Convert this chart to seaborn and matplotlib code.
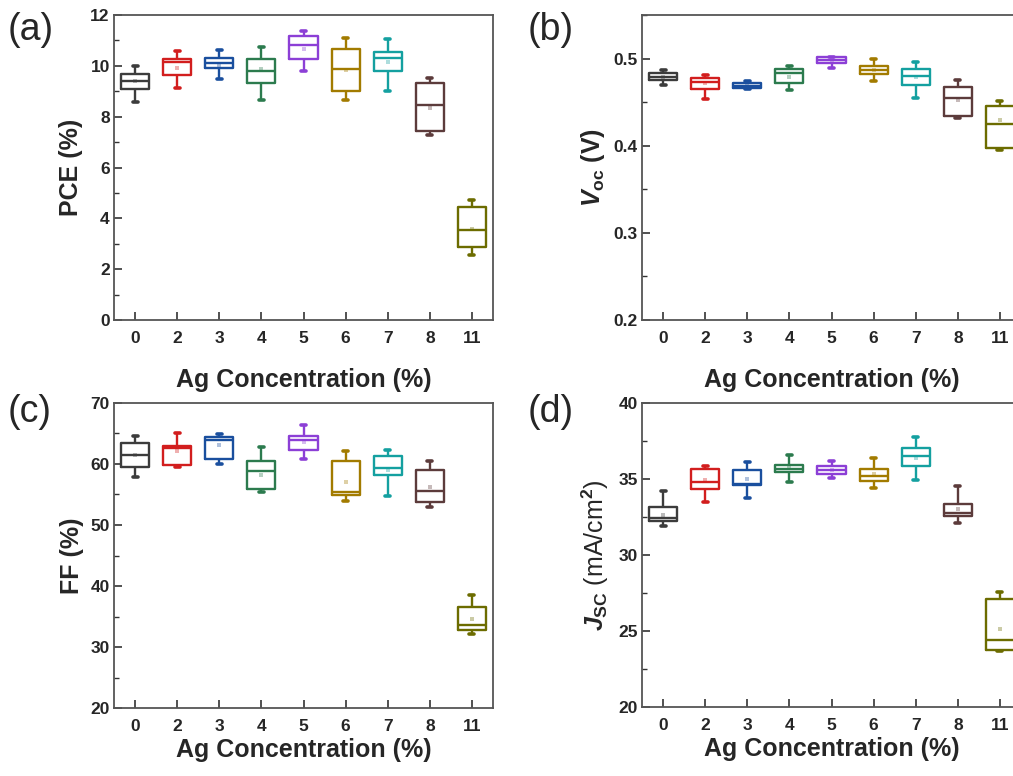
import numpy as np
import pandas as pd
import matplotlib
matplotlib.use("Agg")
import matplotlib.pyplot as plt
import seaborn as sns
from matplotlib.ticker import MultipleLocator

# ---------------- data ----------------
concentrations = ["0", "2", "3", "4", "5", "6", "7", "8", "11"]
colors = ["#3c3c3c", "#d21e1e", "#1a4f9e", "#2c7b4e", "#8c3fd6",
          "#a27b00", "#14a0a0", "#5c3b3b", "#6c6c00"]

# whisker low, q1, median, q3, whisker high, mean
pce_low  = [8.56, 9.14, 9.47, 8.66, 9.81, 8.66, 9.02, 7.29, 2.56]
pce_q1   = [9.08, 9.64, 9.91, 9.31, 10.26, 9.02, 9.80, 7.45, 2.87]
pce_med  = [9.39, 10.14, 10.12, 9.80, 10.81, 9.86, 10.31, 8.45, 3.54]
pce_q3   = [9.68, 10.26, 10.30, 10.26, 11.17, 10.66, 10.53, 9.31, 4.45]
pce_high = [10.00, 10.60, 10.62, 10.73, 11.38, 11.08, 11.06, 9.53, 4.71]
pce_mean = [9.42, 9.93, 10.03, 9.86, 10.65, 9.84, 10.16, 8.35, 3.57]

voc_low  = [0.470, 0.454, 0.4654, 0.4638, 0.4892, 0.474, 0.4542, 0.432, 0.3946]
voc_q1   = [0.475, 0.4646, 0.4665, 0.4723, 0.4946, 0.482, 0.4692, 0.4346, 0.3977]
voc_med  = [0.479, 0.473, 0.469, 0.483, 0.4985, 0.487, 0.480, 0.455, 0.4254]
voc_q3   = [0.483, 0.478, 0.4715, 0.4885, 0.5015, 0.4915, 0.4885, 0.4673, 0.446]
voc_high = [0.487, 0.4815, 0.4746, 0.4915, 0.5023, 0.4992, 0.496, 0.4754, 0.4515]
voc_mean = [0.4785, 0.4715, 0.469, 0.479, 0.4985, 0.4865, 0.4785, 0.453, 0.430]

ff_low  = [57.86, 59.44, 59.99, 55.34, 60.81, 53.97, 54.68, 52.93, 32.20]
ff_q1   = [59.50, 59.82, 60.86, 55.83, 62.29, 54.85, 58.13, 53.75, 32.80]
ff_med  = [61.41, 62.56, 63.87, 58.79, 63.98, 55.45, 59.33, 55.61, 33.62]
ff_q3   = [63.44, 62.89, 64.42, 60.54, 64.64, 60.54, 61.30, 59.00, 36.52]
ff_high = [64.53, 65.08, 64.86, 62.72, 66.33, 62.12, 62.34, 60.54, 38.54]
ff_mean = [61.41, 62.07, 63.16, 58.24, 63.54, 57.09, 59.06, 56.27, 34.66]

jsc_low  = [31.93, 33.51, 33.73, 34.80, 35.07, 34.41, 34.96, 32.11, 23.68]
jsc_q1   = [32.21, 34.36, 34.58, 35.48, 35.31, 34.85, 35.86, 32.57, 23.75]
jsc_med  = [32.43, 34.80, 34.69, 35.68, 35.57, 35.20, 36.54, 32.76, 24.41]
jsc_q3   = [33.16, 35.66, 35.57, 35.92, 35.86, 35.66, 37.06, 33.38, 27.11]
jsc_high = [34.19, 35.88, 36.10, 36.58, 36.18, 36.40, 37.76, 34.52, 27.59]
jsc_mean = [32.65, 34.91, 35.00, 35.70, 35.57, 35.35, 36.38, 33.03, 25.13]

# ---------------- style ----------------
sns.set_theme(style="white")
plt.rcParams["font.family"] = ["Liberation Sans", "DejaVu Sans"]
plt.rcParams["mathtext.fontset"] = "custom"
plt.rcParams["mathtext.it"] = "Liberation Sans:italic:bold"
plt.rcParams["mathtext.rm"] = "Liberation Sans:bold"
plt.rcParams["mathtext.bf"] = "Liberation Sans:bold"

fig = plt.figure(figsize=(10.13, 7.76), dpi=100)
W, H = 1013.0, 776.0


def add_ax(left_px, top_px, right_px, bottom_px):
    return fig.add_axes([left_px / W, 1 - bottom_px / H,
                         (right_px - left_px) / W, (bottom_px - top_px) / H])


def make_df(low, q1, med, q3, high):
    rows = []
    for c, a, b, m, d, e in zip(concentrations, low, q1, med, q3, high):
        for v in (a, b, m, d, e):
            rows.append({"conc": c, "value": v})
    return pd.DataFrame(rows)


palette = dict(zip(concentrations, colors))


def panel(ax, low, q1, med, q3, high, mean, ylim, major, minor, ylabel,
          label_weight="bold", fmt=None, xlabelpad=15):
    df = make_df(low, q1, med, q3, high)
    sns.boxplot(data=df, x="conc", y="value", hue="conc", order=concentrations,
                hue_order=concentrations, palette=palette, fill=False,
                whis=(0, 100), width=0.67, linewidth=1.7, legend=False,
                capwidths=0.12, ax=ax,
                capprops={"linewidth": 2.6})
    mdf = pd.DataFrame({"conc": concentrations, "value": mean})
    sns.stripplot(data=mdf, x="conc", y="value", hue="conc", order=concentrations,
                  hue_order=concentrations, palette=palette, jitter=False,
                  marker="s", size=3, alpha=0.35, legend=False, ax=ax)
    ax.set_xlim(-0.5, 8.5)
    ax.set_ylim(*ylim)
    ax.yaxis.set_major_locator(MultipleLocator(major))
    ax.yaxis.set_minor_locator(MultipleLocator(minor))
    if fmt:
        ax.yaxis.set_major_formatter(fmt)
    ax.tick_params(axis="both", which="both", direction="in", color="#333333",
                   left=True, bottom=True, top=False, right=False)
    ax.tick_params(axis="both", which="major", length=6, width=1.2)
    ax.tick_params(axis="y", which="minor", length=3.5, width=1.0)
    ax.tick_params(axis="y", which="major", pad=3, labelsize=12.5)
    ax.tick_params(axis="x", which="major", pad=8, labelsize=12.5)
    for lab in ax.get_xticklabels() + ax.get_yticklabels():
        lab.set_fontweight("bold")
    for s in ax.spines.values():
        s.set_color("#555555")
        s.set_linewidth(1.3)
    ax.set_xlabel("Ag Concentration (%)", fontsize=18, fontweight="bold",
                  labelpad=xlabelpad)
    ax.set_ylabel(ylabel, fontsize=18, fontweight=label_weight, labelpad=5)


ax_a = add_ax(114, 15, 493, 320)
ax_b = add_ax(642, 15, 1021, 320)
ax_c = add_ax(114, 403, 493, 708)
ax_d = add_ax(642, 403, 1021, 707)

panel(ax_a, pce_low, pce_q1, pce_med, pce_q3, pce_high, pce_mean,
      (0, 12), 2, 1, "PCE (%)", xlabelpad=16)
panel(ax_b, voc_low, voc_q1, voc_med, voc_q3, voc_high, voc_mean,
      (0.2, 0.55), 0.1, 0.05, r"$V_{\mathrm{oc}}$ (V)",
      fmt=matplotlib.ticker.FormatStrFormatter("%.1f"), xlabelpad=16)
panel(ax_c, ff_low, ff_q1, ff_med, ff_q3, ff_high, ff_mean,
      (20, 70), 10, 5, "FF (%)", xlabelpad=3)
panel(ax_d, jsc_low, jsc_q1, jsc_med, jsc_q3, jsc_high, jsc_mean,
      (20, 40), 5, 2.5, r"$J_{\mathrm{SC}}$ (mA/cm$^{\mathrm{2}}$)",
      label_weight="normal", xlabelpad=3)

for lbl, x, y in [("(a)", 8, 30), ("(b)", 528, 30), ("(c)", 8, 412), ("(d)", 528, 412)]:
    fig.text(x / W, 1 - y / H, lbl, fontsize=27, ha="left", va="center")

fig.savefig("out.png", dpi=100)
